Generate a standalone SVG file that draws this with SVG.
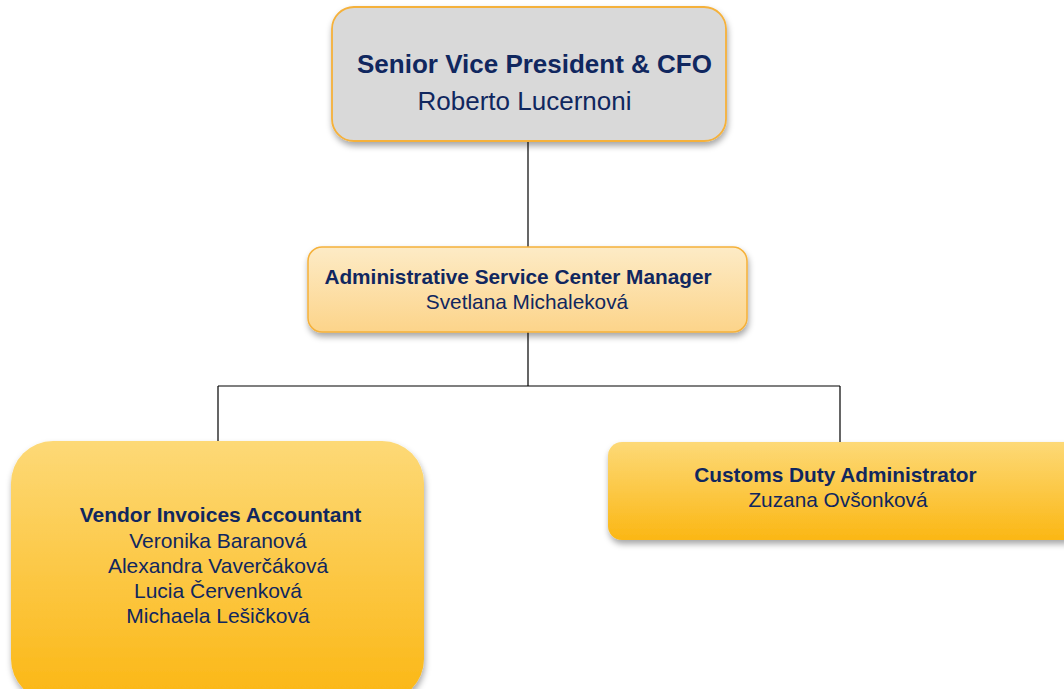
<svg xmlns="http://www.w3.org/2000/svg" width="1064" height="689" viewBox="0 0 1064 689">
<style>
.t{font-family:"Liberation Sans",Arial,sans-serif;fill:#10275f;text-anchor:middle}
.b{font-weight:bold}
.c{stroke:#000;stroke-width:1.2;fill:none}
</style>
<defs>
<linearGradient id="gOr" x1="0" y1="0" x2="0" y2="1">
<stop offset="0" stop-color="#fdebc6"/>
<stop offset="1" stop-color="#fcd48a"/>
</linearGradient>
<linearGradient id="gYe" x1="0" y1="0" x2="0" y2="1">
<stop offset="0" stop-color="#fdd977"/>
<stop offset="1" stop-color="#fbb714"/>
</linearGradient>
<filter id="sh" x="-10%" y="-10%" width="120%" height="130%">
<feDropShadow dx="1" dy="4" stdDeviation="3" flood-color="#000" flood-opacity="0.35"/>
</filter>
</defs>
<rect width="1064" height="689" fill="#fff"/>
<g id="connectors">
<path class="c" d="M528 141V247"/>
<path class="c" d="M528 332V386M218 386H840M218 386V441M840 386V442"/>
</g>
<g id="cfo">
<rect x="332" y="7" width="394" height="134" rx="22" fill="#d9d9d9" stroke="#f5b13a" stroke-width="1.8" filter="url(#sh)"/>
<text class="t b" x="534.5" y="73" font-size="26">Senior Vice President &amp; CFO</text>
<text class="t" x="524.5" y="110" font-size="26">Roberto Lucernoni</text>
</g>
<g id="manager">
<rect x="308" y="247" width="439" height="85" rx="14" fill="url(#gOr)" stroke="#f5b13a" stroke-width="1.5" filter="url(#sh)"/>
<text class="t b" x="518" y="284" font-size="20.8">Administrative Service Center Manager</text>
<text class="t" x="527" y="309" font-size="20.8">Svetlana Michaleková</text>
</g>
<g id="vendor">
<rect x="11" y="441" width="413" height="260" rx="42" fill="url(#gYe)" filter="url(#sh)"/>
<text class="t b" x="220.5" y="522" font-size="21">Vendor Invoices Accountant</text>
<text class="t" x="218" y="548" font-size="21">Veronika Baranová</text>
<text class="t" x="218" y="573" font-size="21">Alexandra Vaverčáková</text>
<text class="t" x="218" y="598" font-size="21">Lucia Červenková</text>
<text class="t" x="218" y="623" font-size="21">Michaela Lešičková</text>
</g>
<g id="customs">
<rect x="608" y="442" width="470" height="98" rx="14" fill="url(#gYe)" filter="url(#sh)"/>
<text class="t b" x="835.5" y="482" font-size="20.8">Customs Duty Administrator</text>
<text class="t" x="838" y="507" font-size="20.8">Zuzana Ovšonková</text>
</g>
</svg>
